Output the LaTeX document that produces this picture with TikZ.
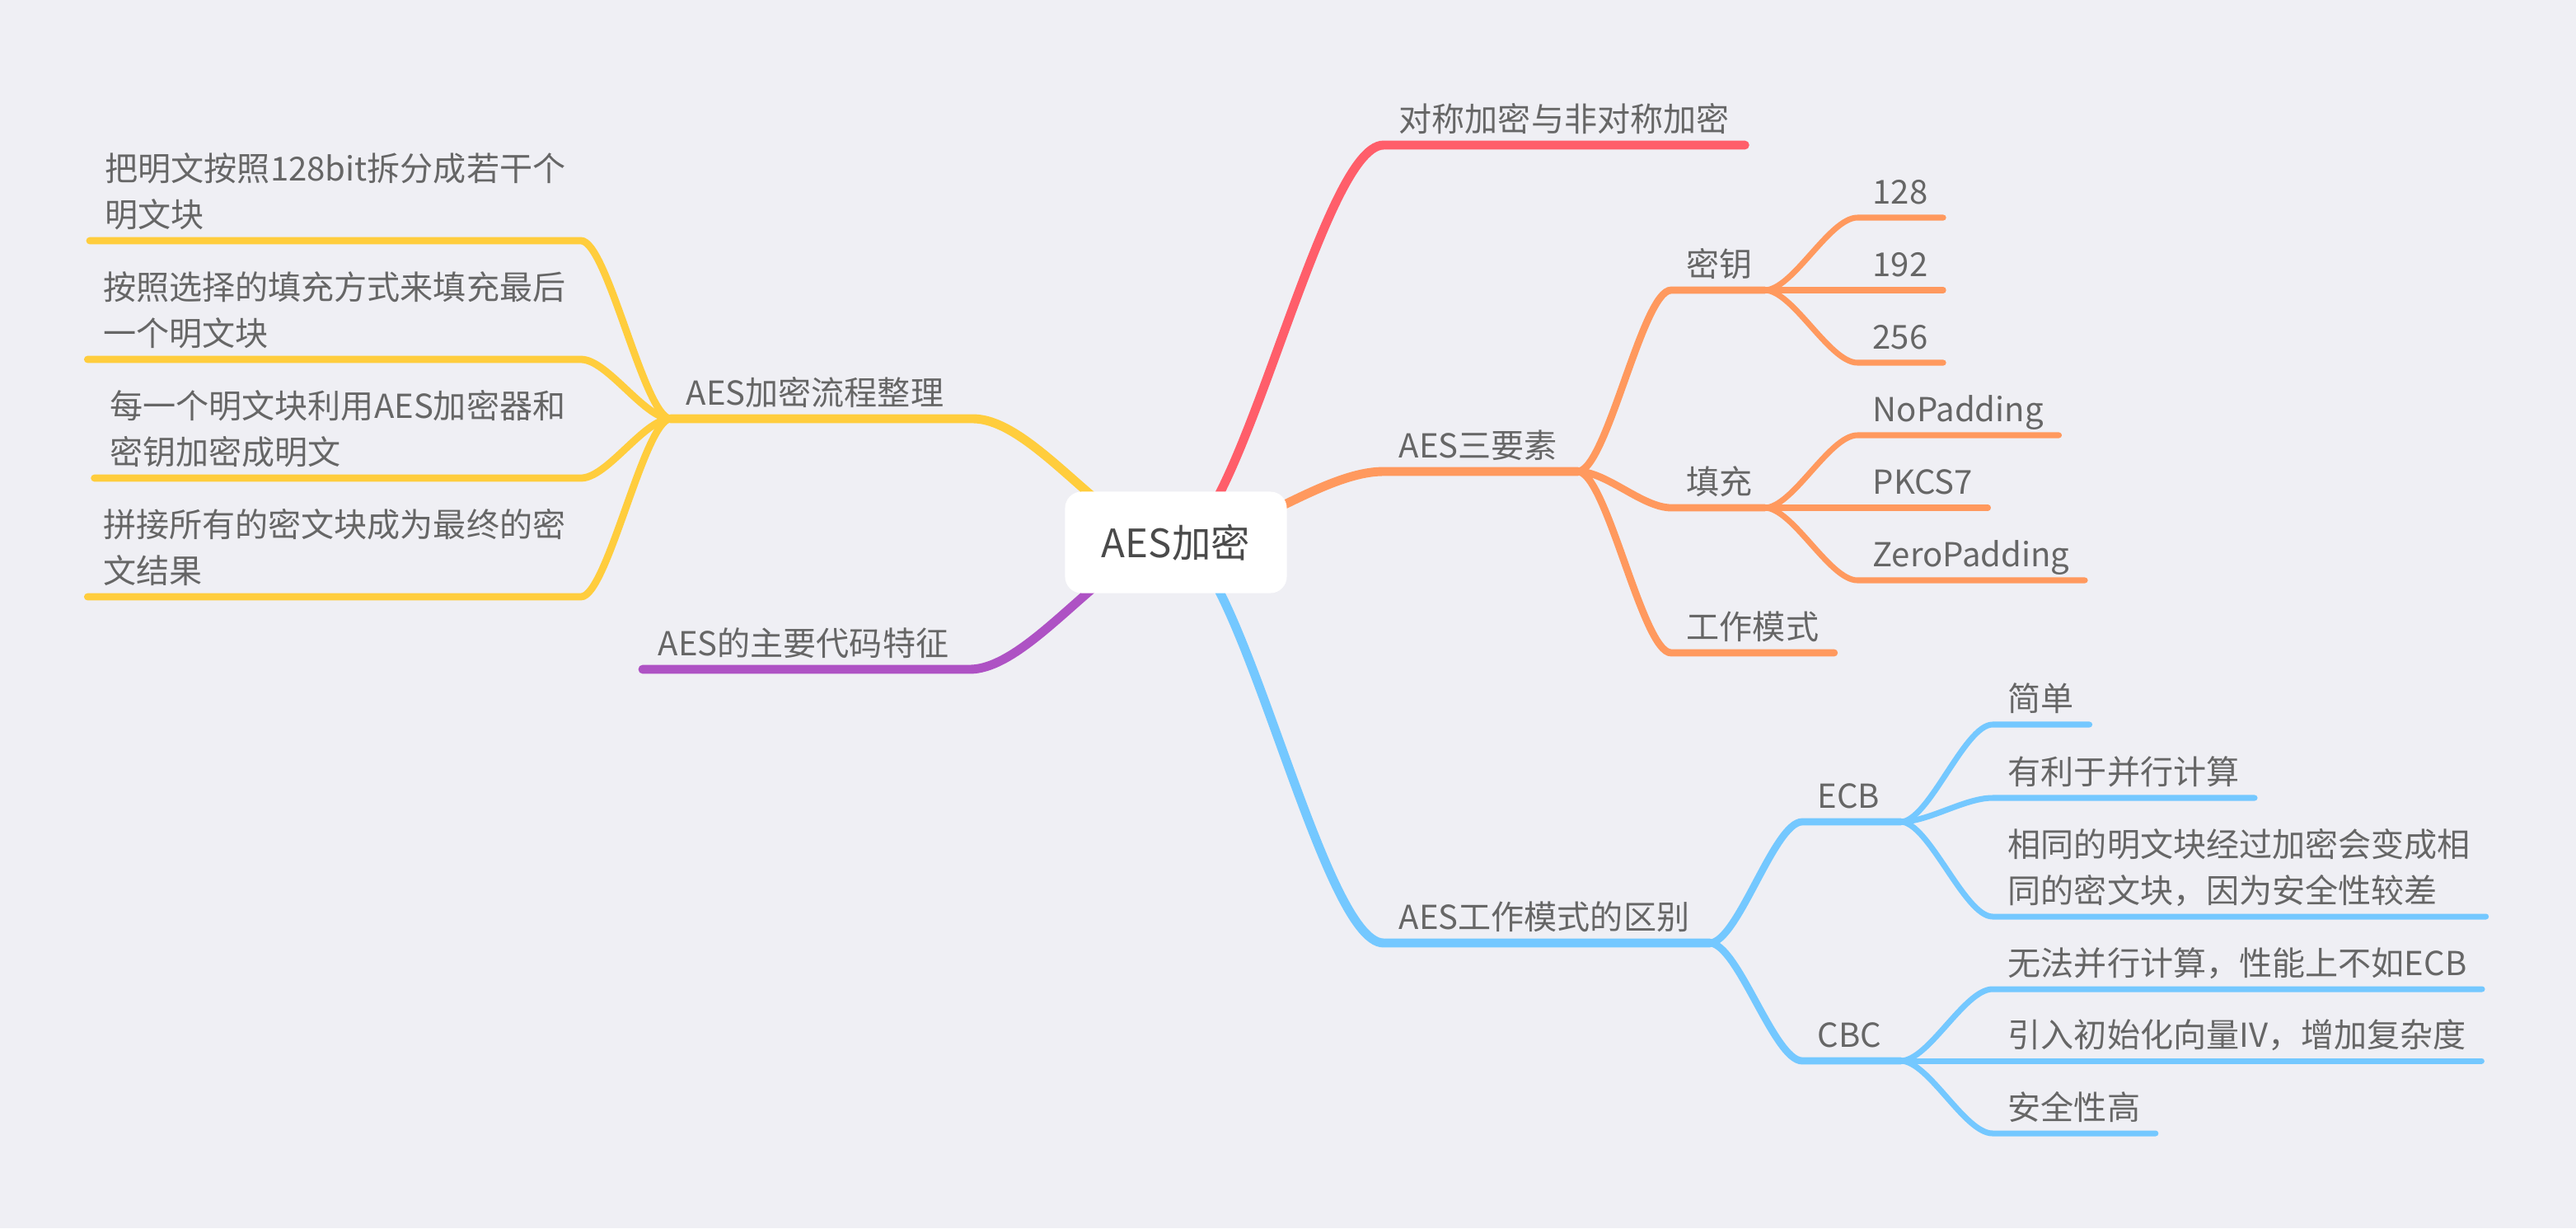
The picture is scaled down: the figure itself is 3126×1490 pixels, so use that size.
\documentclass[tikz,border=0pt]{standalone}
\usepackage{fontspec}
\setmainfont{Noto Sans CJK SC}
\usepackage{tikz}

\definecolor{paper}{HTML}{EFEFF4}
\definecolor{txtgray}{HTML}{666666}
\definecolor{rootgray}{HTML}{4A4A4A}
\definecolor{redbr}{HTML}{FF5E6A}
\definecolor{orangebr}{HTML}{FF995E}
\definecolor{bluebr}{HTML}{74C8FF}
\definecolor{yellowbr}{HTML}{FFCD3D}
\definecolor{purplebr}{HTML}{AE52C4}

\begin{document}
\begin{tikzpicture}[x=0.01cm, y=-0.01cm,
    topic/.style={anchor=south west, inner xsep=0.18cm, inner ysep=0.16cm,
        text depth=0pt, align=left, text=txtgray,
        font=\fontsize{11.4}{16}\selectfont},
    ltopic/.style={topic, anchor=south east},
    lvlone/.style={line width=3.1pt, line cap=round},
    lvltwo/.style={line width=2.5pt, line cap=round},
    lvlthree/.style={line width=2pt, line cap=round}]
        \fill[paper] (0,0) rectangle (3126,1490);
        \coordinate (root) at (1427,658);
        \node[topic] (sym) at (1679,176) {对称加密与非对称加密};
        \node[topic, text width=1.98cm] (three) at (1679,572) {AES三要素};
        \node[topic, text width=0.76cm] (key) at (2028,352) {密钥};
        \node[topic, text width=0.76cm] (pad) at (2028,616) {填充};
        \node[topic] (mode) at (2028,792) {工作模式};
        \node[topic] (k128) at (2254,264) {128};
        \node[topic] (k192) at (2254,352) {192};
        \node[topic] (k256) at (2254,440) {256};
        \node[topic] (nopad) at (2254,528) {NoPadding};
        \node[topic] (pkcs) at (2254,616) {PKCS7};
        \node[topic] (zero) at (2254,704) {ZeroPadding};
        \node[topic, text width=3.58cm] (diff) at (1679,1144) {AES工作模式的区别};
        \node[topic, text width=0.82cm] (ecb) at (2187,997) {ECB};
        \node[topic, text width=0.82cm] (cbc) at (2187,1287) {CBC};
        \node[topic] (simple) at (2418,879) {简单};
        \node[topic] (parallel) at (2418,968) {有利于并行计算};
        \node[topic] (same) at (2418,1112) {相同的明文块经过加密会变成相\\同的密文块，因为安全性较差};
        \node[topic] (noparallel) at (2418,1200) {无法并行计算，性能上不如ECB};
        \node[topic] (iv) at (2418,1287) {引入初始化向量IV，增加复杂度};
        \node[topic] (safe) at (2418,1375) {安全性高};
        \node[topic, text width=3.29cm] (flow) at (814,508) {AES加密流程整理};
        \node[ltopic] (flowa) at (705,292) {把明文按照128bit拆分成若干个\\明文块};
        \node[ltopic] (flowb) at (705,436) {按照选择的填充方式来填充最后\\一个明文块};
        \node[ltopic] (flowc) at (705,580) {每一个明文块利用AES加密器和\\密钥加密成明文};
        \node[ltopic] (flowd) at (705,724) {拼接所有的密文块成为最终的密\\文结果};
        \node[topic, text width=3.59cm] (code) at (780,812) {AES的主要代码特征};

        \draw[lvlone, redbr] (root) .. controls +(76,0) and +(-76,0) .. (sym.south west) -- (sym.south east);
        \draw[lvlone, orangebr] (root) .. controls +(76,0) and +(-76,0) .. (three.south west) -- (three.south east);
        \draw[lvlone, bluebr] (root) .. controls +(76,0) and +(-76,0) .. (diff.south west) -- (diff.south east);
        \draw[lvlone, yellowbr] (root) .. controls +(-76,0) and +(76,0) .. (flow.south east) -- (flow.south west);
        \draw[lvlone, purplebr] (root) .. controls +(-76,0) and +(76,0) .. (code.south east) -- (code.south west);

        \foreach \n in {key,pad,mode}{
                \draw[lvltwo, orangebr] (three.south east) .. controls +(35,0) and +(-35,0) .. (\n.south west) -- (\n.south east);
            }
        \foreach \n in {k128,k192,k256}{
                \draw[lvlthree, orangebr] (key.south east) .. controls +(34,0) and +(-34,0) .. (\n.south west) -- (\n.south east);
            }
        \foreach \n in {nopad,pkcs,zero}{
                \draw[lvlthree, orangebr] (pad.south east) .. controls +(34,0) and +(-34,0) .. (\n.south west) -- (\n.south east);
            }
        \foreach \n in {ecb,cbc}{
                \draw[lvltwo, bluebr] (diff.south east) .. controls +(34,0) and +(-34,0) .. (\n.south west) -- (\n.south east);
            }
        \foreach \n in {simple,parallel,same}{
                \draw[lvlthree, bluebr] (ecb.south east) .. controls +(34,0) and +(-34,0) .. (\n.south west) -- (\n.south east);
            }
        \foreach \n in {noparallel,iv,safe}{
                \draw[lvlthree, bluebr] (cbc.south east) .. controls +(34,0) and +(-34,0) .. (\n.south west) -- (\n.south east);
            }
        \foreach \n in {flowa,flowb,flowc,flowd}{
                \draw[lvltwo, yellowbr] (flow.south west) .. controls +(-32,0) and +(32,0) .. (\n.south east) -- (\n.south west);
            }

        \node[fill=white, rounded corners=0.2cm, minimum width=2.69cm, minimum height=1.23cm,
            text=rootgray, font=\fontsize{13.5}{16}\selectfont] (aes) at (root) {AES加密};
\end{tikzpicture}
\end{document}
